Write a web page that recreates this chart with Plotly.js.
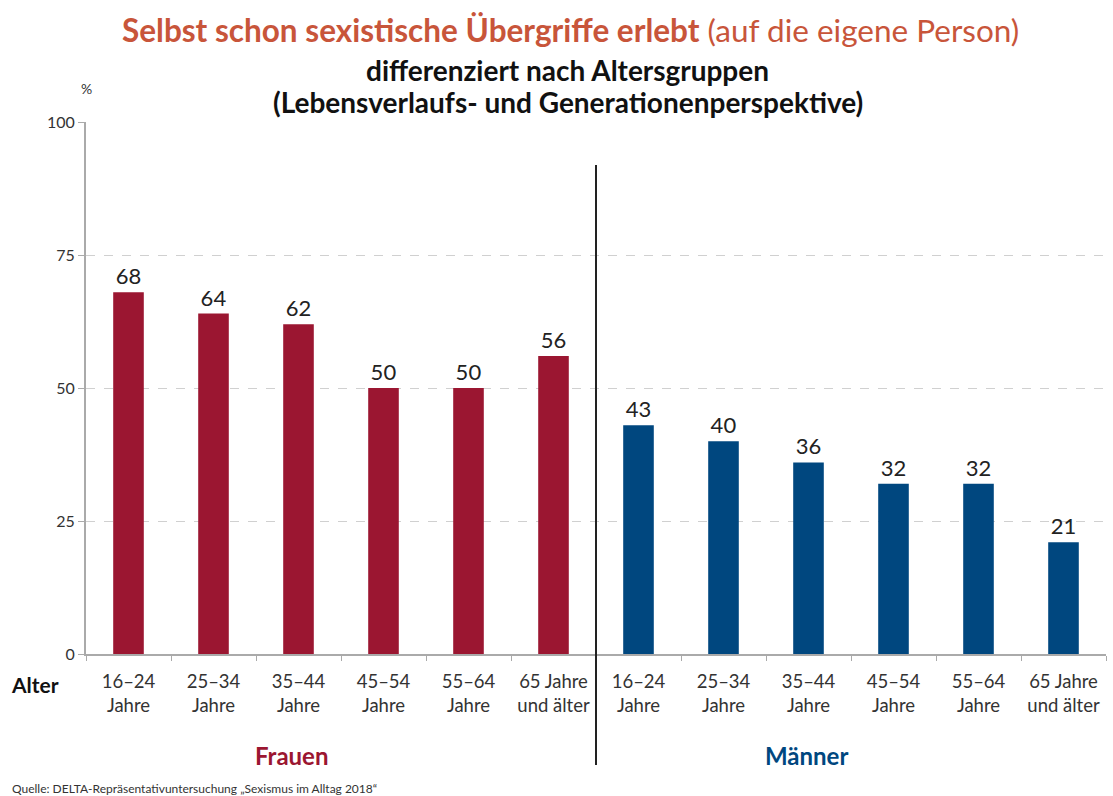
<!DOCTYPE html>
<html>
<head>
<meta charset="utf-8">
<script src="https://cdn.plot.ly/plotly-3.0.1.min.js"></script>
<style>html,body{margin:0;padding:0;background:#fff;}#chart{width:1113px;height:796px;}</style>
</head>
<body>
<div id="chart"></div>
<script>
const ageLabels = ["16–24<br>Jahre","25–34<br>Jahre","35–44<br>Jahre","45–54<br>Jahre","55–64<br>Jahre","65 Jahre<br>und älter"];
const frauenValues = [68, 64, 62, 50, 50, 56];
const maennerValues = [43, 40, 36, 32, 32, 21];
const yTicks = [0, 25, 50, 75, 100];

const FONT = "Lato, 'Open Sans', sans-serif";
const red = "#9B1631";
const blue = "#00477F";

const nF = frauenValues.length;
const xF = frauenValues.map((v, i) => i);
const xM = maennerValues.map((v, i) => i + nF);
const allLabels = ageLabels.concat(ageLabels);
const allX = allLabels.map((l, i) => i);

const common = {
  type: 'bar', width: 0.36, textposition: 'outside', cliponaxis: false,
  textfont: {family: FONT, size: 22, color: '#222'}, hoverinfo: 'x+y', showlegend: false
};
const traces = [
  Object.assign({}, common, {x: xF, y: frauenValues, text: frauenValues.map(String), marker: {color: red}}),
  Object.assign({}, common, {x: xM, y: maennerValues, text: maennerValues.map(String), marker: {color: blue}})
];

function py(p) { return (654 - p) / 532; }
function px(p) { return (p - 86) / 1020; }

const layout = {
  width: 1113, height: 796,
  margin: {l: 86, r: 7, t: 122, b: 142},
  paper_bgcolor: '#fff', plot_bgcolor: '#fff',
  font: {family: FONT, color: '#333'},
  bargap: 0.64,
  xaxis: {
    range: [-0.5, allLabels.length - 0.5],
    tickvals: allX, ticktext: allLabels,
    ticks: '', showgrid: false, zeroline: false,
    showline: true, linecolor: '#aaa', linewidth: 2,
    ticklabelstandoff: 10,
    tickfont: {family: FONT, size: 18.5, color: '#333'},
    minor: {tick0: 0.5, dtick: 1, ticks: 'outside', ticklen: 5, tickcolor: '#aaa', tickwidth: 1, showgrid: false},
    fixedrange: true
  },
  yaxis: {
    range: [0, 100], tickvals: yTicks, ticks: 'outside', ticklen: 6, tickcolor: '#aaa',
    showline: true, linecolor: '#aaa', linewidth: 2,
    showgrid: true, gridcolor: '#d0d0d0', griddash: 'dash', gridwidth: 1,
    zeroline: false,
    tickfont: {family: FONT, size: 16, color: '#333'},
    fixedrange: true
  },
  shapes: [{
    type: 'line', xref: 'x', yref: 'paper', x0: nF - 0.5, x1: nF - 0.5, y0: py(765), y1: py(165),
    line: {color: '#222', width: 2}
  }],
  annotations: [
    {xref: 'paper', yref: 'paper', x: px(570), y: py(30), xanchor: 'center', yanchor: 'middle', showarrow: false,
     text: "<b>Selbst schon sexistische Übergriffe erlebt</b> (auf die eigene Person)",
     font: {family: FONT, size: 31.5, color: '#C8553A'}},
    {xref: 'paper', yref: 'paper', x: px(567), y: py(70), xanchor: 'center', yanchor: 'middle', showarrow: false,
     text: "<b>differenziert nach Altersgruppen</b>", font: {family: FONT, size: 28, color: '#111'}},
    {xref: 'paper', yref: 'paper', x: px(568), y: py(102), xanchor: 'center', yanchor: 'middle', showarrow: false,
     text: "<b>(Lebensverlaufs- und Generationenperspektive)</b>", font: {family: FONT, size: 28, color: '#111'}},
    {xref: 'paper', yref: 'paper', x: px(86), y: py(88), xanchor: 'center', yanchor: 'middle', showarrow: false,
     text: "%", font: {family: FONT, size: 14, color: '#333'}},
    {xref: 'paper', yref: 'paper', x: px(35), y: py(684), xanchor: 'center', yanchor: 'middle', showarrow: false,
     text: "<b>Alter</b>", font: {family: FONT, size: 21, color: '#111'}},
    {xref: 'paper', yref: 'paper', x: px(291), y: py(755), xanchor: 'center', yanchor: 'middle', showarrow: false,
     text: "<b>Frauen</b>", font: {family: FONT, size: 24, color: red}},
    {xref: 'paper', yref: 'paper', x: px(806), y: py(755), xanchor: 'center', yanchor: 'middle', showarrow: false,
     text: "<b>Männer</b>", font: {family: FONT, size: 24, color: blue}},
    {xref: 'paper', yref: 'paper', x: px(10), y: py(788), xanchor: 'left', yanchor: 'middle', showarrow: false,
     text: "Quelle: DELTA-Repräsentativuntersuchung „Sexismus im Alltag 2018“", font: {family: FONT, size: 12, color: '#333'}}
  ]
};

Plotly.newPlot('chart', traces, layout, {displayModeBar: false, staticPlot: true});
</script>
</body>
</html>
